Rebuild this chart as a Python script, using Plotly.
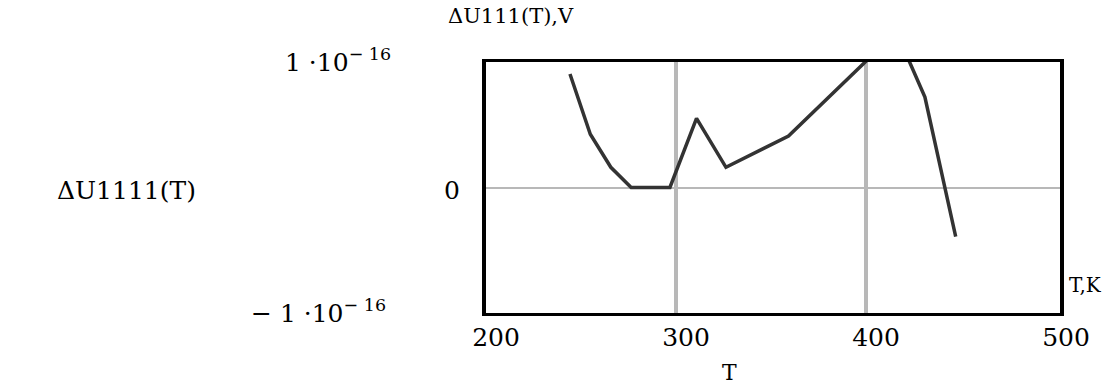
import plotly.graph_objects as go

# ---- data ----
T_VALUES = [244.2, 254.9, 265.7, 276.4, 296.8, 310.8, 326.3, 359.2, 416.0, 431.0, 447.2]
DU_VALUES = [0.904e-16, 0.424e-16, 0.161e-16, 0.0, 0.0, 0.551e-16, 0.161e-16,
             0.410e-16, 1.24e-16, 0.72e-16, -0.392e-16]

X_TICKS = [200, 300, 400, 500]
X_TICK_TEXT = ["200", "300", "400", "500"]
X_GRID = [300, 400]
Y_TICKS = [1e-16, 0.0, -1e-16]
Y_TICK_TEXT = ["1 ·10<sup>− 16</sup>", "0", "− 1 ·10<sup>− 16</sup>"]

FONT = "DejaVu Serif"
BIG = 25

fig = go.Figure()
fig.add_trace(go.Scatter(
    x=T_VALUES, y=DU_VALUES, mode="lines",
    line=dict(color="#333333", width=3.5),
    hoverinfo="skip", showlegend=False,
))

fig.update_layout(
    width=1112, height=385,
    margin=dict(l=486, r=52, t=62, b=72, pad=0),
    paper_bgcolor="white", plot_bgcolor="white",
    showlegend=False,
    font=dict(family=FONT, color="black", size=BIG),
)

fig.update_xaxes(
    range=[200, 502.1], tickmode="array", tickvals=X_TICKS, ticktext=X_TICK_TEXT,
    showgrid=False, zeroline=False, ticks="",
    showline=True, linecolor="black", linewidth=3, mirror=True,
    tickfont=dict(family=FONT, size=BIG, color="black"),
    ticklabelshift=10, ticklabelstandoff=0,
    minor=dict(tickmode="array", tickvals=X_GRID, showgrid=True,
               gridcolor="#b8b8b8", gridwidth=4, ticks=""),
)
fig.update_yaxes(
    range=[-1e-16, 1e-16], tickmode="array", tickvals=[0.0],
    showticklabels=False, showgrid=False, ticks="",
    zeroline=True, zerolinecolor="#b8b8b8", zerolinewidth=2,
    showline=True, linecolor="black", linewidth=4, mirror=True,
)

# y tick labels (Mathcad style, placed left of the frame)
y_label_shift = [(-148, 2), (-34, -3), (-168, 2)]
for val, txt, (dx, dy) in zip(Y_TICKS, Y_TICK_TEXT, y_label_shift):
    fig.add_annotation(x=0, xref="paper", y=val, yref="y", text=txt,
                       showarrow=False, xanchor="center", yanchor="middle",
                       xshift=dx, yshift=dy,
                       font=dict(family=FONT, size=BIG, color="black"))

# axis names
fig.add_annotation(x=0, xref="paper", y=0, yref="y", text="ΔU1111(T)",
                   showarrow=False, xanchor="center", yanchor="middle",
                   xshift=-360, yshift=-3,
                   font=dict(family=FONT, size=BIG, color="black"))
fig.add_annotation(x=0, xref="paper", y=0, yref="paper", text="T",
                   showarrow=False, xanchor="center", yanchor="middle",
                   xshift=243, yshift=-59,
                   font=dict(family=FONT, size=22, color="black"))
fig.add_annotation(x=0, xref="paper", y=1, yref="paper", text="ΔU111(T),V",
                   showarrow=False, xanchor="left", yanchor="middle",
                   xshift=-40, yshift=46,
                   font=dict(family=FONT, size=21, color="black"))
fig.add_annotation(x=1, xref="paper", y=0, yref="paper", text="T,K",
                   showarrow=False, xanchor="left", yanchor="middle",
                   xshift=7, yshift=28,
                   font=dict(family=FONT, size=20, color="black"))

fig.write_html("out.html")
